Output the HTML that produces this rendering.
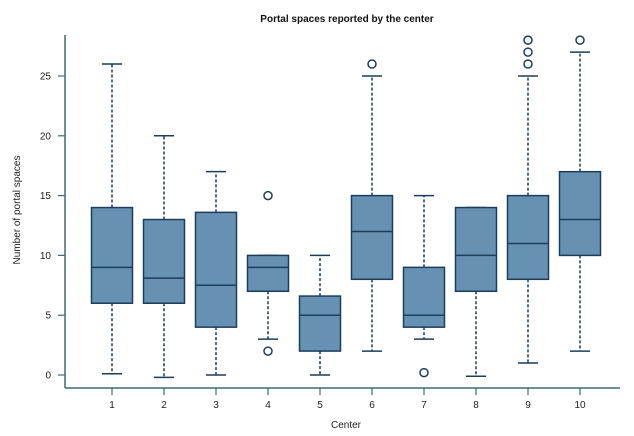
<!DOCTYPE html>
<html><head><meta charset="utf-8"><style>
html,body{margin:0;padding:0;background:#fff;}
svg{display:block;font-family:"Liberation Sans",Arial,sans-serif;}
</style></head><body>
<svg id="chart" width="634" height="436" viewBox="0 0 634 436">
<text x="347" y="22" text-anchor="middle" font-size="10" font-weight="bold" fill="#111">Portal spaces reported by the center</text>
<text x="20" y="210" text-anchor="middle" font-size="10" fill="#222" transform="rotate(-90 20 210)">Number of portal spaces</text>
<text x="346" y="428" text-anchor="middle" font-size="10" fill="#222">Center</text>
<g id="axes"></g><g id="marks"></g>
</svg>
<script>
const categories = ["1","2","3","4","5","6","7","8","9","10"];
const whiskerLow = [0.1,-0.2,0,3,0,2,3,-0.1,1,2];
const q1 = [6,6,4,7,2,8,4,7,8,10];
const median = [9,8.1,7.5,9,5,12,5,10,11,13];
const q3 = [14,13,13.6,10,6.6,15,9,14,15,17];
const whiskerHigh = [26,20,17,10,10,25,15,14,25,27];
const outliers = [[],[],[],[15,2],[],[26],[0.2],[],[26,27,28],[28]];
const yTicks = [0,5,10,15,20,25];

const NS="http://www.w3.org/2000/svg";
const yS=v=>375-v*11.96;
const xS=i=>112+i*52;
const axColor="#3f6a70", dark="#1d3d5c", fill="#6791b3";
const axes=document.getElementById('axes'), marks=document.getElementById('marks');
function mk(tag,attrs,parent){const e=document.createElementNS(NS,tag);for(const k in attrs)e.setAttribute(k,attrs[k]);parent.appendChild(e);return e;}

let yl=mk('line',{x1:65,y1:35,x2:65,y2:388,stroke:axColor,'stroke-width':1.5},axes);


let xl=mk('line',{x1:65,y1:388,x2:620,y2:388,stroke:axColor,'stroke-width':1.5},axes);


yTicks.forEach(t=>{
  mk('line',{x1:58,x2:65,y1:yS(t),y2:yS(t),stroke:axColor,'stroke-width':1.2},axes);
  const tx=mk('text',{x:51,y:yS(t)+3.5,'text-anchor':'end','font-size':10,fill:'#222'},axes);
  tx.textContent=t;
  
  
});
categories.forEach((c,i)=>{
  const x=xS(i);
  mk('line',{x1:x,x2:x,y1:388,y2:395,stroke:axColor,'stroke-width':1.2},axes);
  const tx=mk('text',{x:x,y:408,'text-anchor':'middle','font-size':10,fill:'#222'},axes);
  tx.textContent=c;
  
  
  const g=mk('g',{},marks);
  
  
  const st={stroke:dark,'stroke-width':1.5};
  mk('line',Object.assign({x1:x,x2:x,y1:yS(q3[i]),y2:yS(whiskerHigh[i]),'stroke-dasharray':'3,2'},st),g);
  mk('line',Object.assign({x1:x,x2:x,y1:yS(q1[i]),y2:yS(whiskerLow[i]),'stroke-dasharray':'3,2'},st),g);
  mk('line',Object.assign({x1:x-10,x2:x+10,y1:yS(whiskerHigh[i]),y2:yS(whiskerHigh[i])},st),g);
  mk('line',Object.assign({x1:x-10,x2:x+10,y1:yS(whiskerLow[i]),y2:yS(whiskerLow[i])},st),g);
  mk('rect',{x:x-20.5,y:yS(q3[i]),width:41,height:yS(q1[i])-yS(q3[i]),fill:fill,stroke:dark,'stroke-width':1.5},g);
  mk('line',Object.assign({x1:x-20.5,x2:x+20.5,y1:yS(median[i]),y2:yS(median[i])},st),g);
  outliers[i].forEach(o=>{
    const ci=mk('circle',{cx:x,cy:yS(o),r:4,fill:'#fff',stroke:dark,'stroke-width':1.5},g);
    
    
  });
});
</script>
</body></html>
